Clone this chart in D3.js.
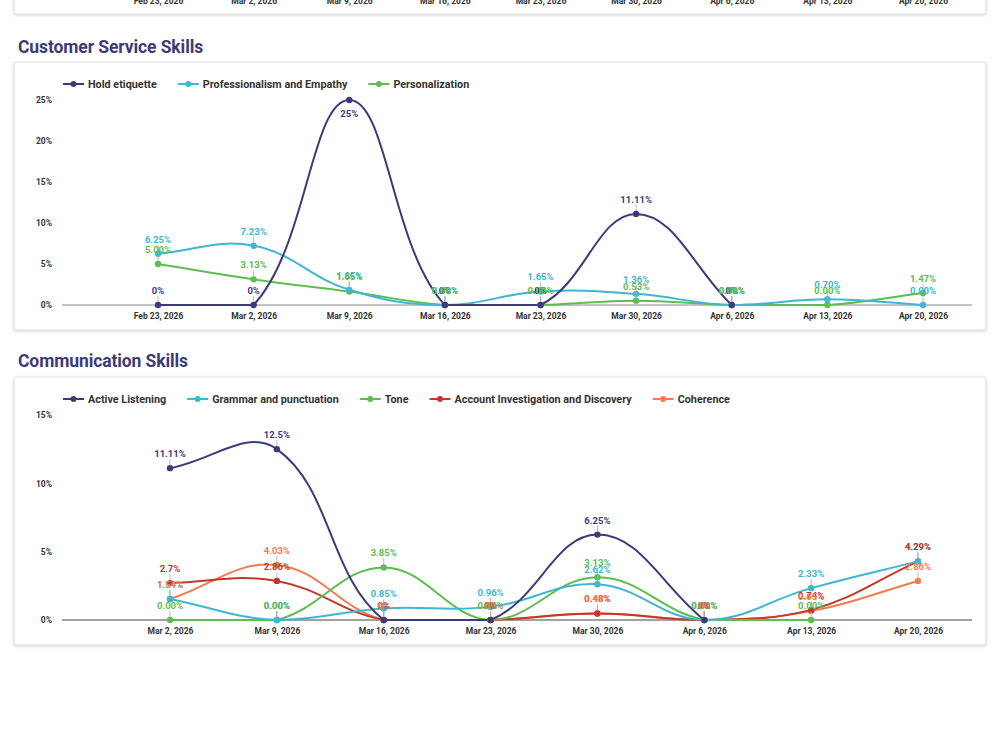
<!DOCTYPE html>
<html><head><meta charset="utf-8">
<script src="https://cdn.jsdelivr.net/npm/d3@7"></script>
<style>
html,body{margin:0;padding:0;background:#fff;}
svg{display:block;font-family:Roboto,"Noto Sans",sans-serif;}
</style></head>
<body>
<svg id="chart" width="1000" height="749"></svg>
<script>
// ---------- DATA ----------
const prevDates = ["Feb 23, 2026","Mar 2, 2026","Mar 9, 2026","Mar 16, 2026","Mar 23, 2026","Mar 30, 2026","Apr 6, 2026","Apr 13, 2026","Apr 20, 2026"];

const csDates = ["Feb 23, 2026","Mar 2, 2026","Mar 9, 2026","Mar 16, 2026","Mar 23, 2026","Mar 30, 2026","Apr 6, 2026","Apr 13, 2026","Apr 20, 2026"];
const csTicks = [0, 5, 10, 15, 20, 25];
const holdEtiquette    = [0, 0, 25, 0, 0, 11.11, 0, null, null];
const professionalism  = [6.25, 7.23, 1.85, 0, 1.65, 1.36, 0, 0.70, 0];
const personalization  = [5.00, 3.13, 1.65, 0, 0, 0.53, 0, 0, 1.47];

const commDates = ["Mar 2, 2026","Mar 9, 2026","Mar 16, 2026","Mar 23, 2026","Mar 30, 2026","Apr 6, 2026","Apr 13, 2026","Apr 20, 2026"];
const commTicks = [0, 5, 10, 15];
const activeListening = [11.11, 12.5, 0, 0, 6.25, 0, null, null];
const grammar         = [1.54, 0, 0.85, 0.96, 2.62, 0, 2.33, 4.29];
const tone            = [0.00, 0.00, 3.85, 0, 3.13, 0, 0, null];
const accountInv      = [2.7, 2.86, 0, 0, 0.48, 0, 0.74, 4.29];
const coherence       = [1.54, 4.03, 0, 0, 0.48, 0, 0.65, 2.86];

const C = {purple:"#3d3a7c", cyan:"#3fb6d3", green:"#5dbd4f", red:"#c0392b", orange:"#f47b4f"};

const csSeries = [
  {name:"Hold etiquette", values:holdEtiquette, color:C.purple, trim:true},
  {name:"Professionalism and Empathy", values:professionalism, color:C.cyan, trim:false},
  {name:"Personalization", values:personalization, color:C.green, trim:false}
];
const commSeries = [
  {name:"Active Listening", values:activeListening, color:C.purple, trim:true},
  {name:"Grammar and punctuation", values:grammar, color:C.cyan, trim:false},
  {name:"Tone", values:tone, color:C.green, trim:false},
  {name:"Account Investigation and Discovery", values:accountInv, color:C.red, trim:true},
  {name:"Coherence", values:coherence, color:C.orange, trim:true}
];

// ---------- DRAW ----------
const svg = d3.select("#chart");
const defs = svg.append("defs");
const f = defs.append("filter").attr("id","shadow").attr("x","-5%").attr("y","-5%").attr("width","110%").attr("height","115%");
f.append("feDropShadow").attr("dx",0).attr("dy",1).attr("stdDeviation",1.2).attr("flood-color","#000").attr("flood-opacity",0.18);

function card(x,y,w,h){
  svg.append("rect").attr("x",x).attr("y",y).attr("width",w).attr("height",h)
    .attr("rx",2).attr("fill","#fff").attr("stroke","#dcdcdc").attr("filter","url(#shadow)");
}

const fmtFixed = d3.format(".2f");
function label(v, trim){
  if (trim) return (+v.toFixed(2)).toString() + "%";
  return fmtFixed(v) + "%";
}

function chartjsPath(pts, area, t){
  const p = d3.path();
  const cps = pts.map((cur,i)=>{
    const prev = pts[i-1] || cur, next = pts[i+1] || cur;
    const d01 = Math.hypot(cur[0]-prev[0], cur[1]-prev[1]);
    const d12 = Math.hypot(next[0]-cur[0], next[1]-cur[1]);
    let s01 = d01/(d01+d12), s12 = d12/(d01+d12);
    if (!isFinite(s01)) s01 = 0; if (!isFinite(s12)) s12 = 0;
    const fa = t*s01, fb = t*s12;
    const cl = (v,a,b)=>Math.max(Math.min(v,b),a);
    return {
      px: cl(cur[0]-fa*(next[0]-prev[0]), area.left, area.right),
      py: cl(cur[1]-fa*(next[1]-prev[1]), area.top, area.bottom),
      nx: cl(cur[0]+fb*(next[0]-prev[0]), area.left, area.right),
      ny: cl(cur[1]+fb*(next[1]-prev[1]), area.top, area.bottom)
    };
  });
  p.moveTo(pts[0][0], pts[0][1]);
  for (let i=1;i<pts.length;i++){
    p.bezierCurveTo(cps[i-1].nx, cps[i-1].ny, cps[i].px, cps[i].py, pts[i][0], pts[i][1]);
  }
  return p.toString();
}

function drawChart(o){
  svg.append("text").attr("x",18).attr("y",o.titleY).attr("fill","#3d3a78")
    .attr("font-size",17.5).attr("font-weight",700).attr("letter-spacing","-0.1")
    .text(o.title);
  card(14,o.cardTop,972,o.cardH);

  const x = d3.scalePoint().domain(o.dates).range([o.x0, o.x1]);
  const y = d3.scaleLinear().domain([0, d3.max(o.ticks)]).range([o.y0, o.yTop]);
  const area = {left:62, right:972, top:o.yTop, bottom:o.y0};
  const g = svg.append("g");

  // y axis
  const ya = g.append("g").attr("transform","translate(54,0)")
    .call(d3.axisLeft(y).tickValues(o.ticks).tickSize(0).tickPadding(2).tickFormat(d=>d+"%"));
  ya.select(".domain").remove();
  ya.selectAll("text").attr("font-size",8.5).attr("font-weight",700).attr("fill","#333").attr("font-family","Roboto");

  // baseline
  g.append("line").attr("x1",62).attr("x2",972).attr("y1",y(0)).attr("y2",y(0))
    .attr("stroke",o.axisColor).attr("stroke-width",1);

  // x axis
  const xa = g.append("g").attr("transform",`translate(0,${y(0)})`)
    .call(d3.axisBottom(x).tickSize(0).tickPadding(8));
  xa.select(".domain").remove();
  xa.selectAll("text").attr("font-size",8.5).attr("font-weight",700).attr("fill","#333").attr("font-family","Roboto");

  // lines (first dataset on top)
  const rev = o.series.slice().reverse();
  rev.forEach(s=>{
    const pts = o.dates.map((d,i)=>s.values[i]==null?null:[x(d), y(s.values[i])]).filter(p=>p);
    g.append("path").attr("d", chartjsPath(pts, area, 0.4))
      .attr("fill","none").attr("stroke",s.color).attr("stroke-width",2);
  });
  rev.forEach(s=>{
    g.selectAll(null).data(o.dates.map((d,i)=>({d,v:s.values[i]})).filter(e=>e.v!=null))
      .join("circle").attr("cx",e=>x(e.d)).attr("cy",e=>y(e.v)).attr("r",3.2).attr("fill",s.color);
  });
  // data labels
  const maxV = d3.max(o.ticks);
  o.series.forEach(s=>{
    o.dates.forEach((d,i)=>{
      const v = s.values[i]; if (v==null) return;
      const px = x(d), py = y(v);
      const below = v >= maxV;
      if (below){
        g.append("text").attr("x",px).attr("y",py+17).attr("text-anchor","middle")
          .attr("font-size",9.5).attr("font-weight",700).attr("fill",s.color).text(label(v,s.trim));
      } else {
        g.append("line").attr("x1",px).attr("x2",px).attr("y1",py-3).attr("y2",py-9)
          .attr("stroke","#aaa").attr("stroke-width",0.8);
        g.append("text").attr("x",px).attr("y",py-11).attr("text-anchor","middle")
          .attr("font-size",9.5).attr("font-weight",700).attr("fill",s.color).text(label(v,s.trim));
      }
    });
  });

  // legend
  let lx = 63;
  o.series.forEach(s=>{
    const lg = g.append("g").attr("transform",`translate(${lx},${o.legendY})`);
    lg.append("line").attr("x1",0).attr("x2",21).attr("stroke",s.color).attr("stroke-width",2);
    lg.append("circle").attr("cx",10.5).attr("r",3).attr("fill",s.color);
    const t = lg.append("text").attr("x",25).attr("dy","0.35em").attr("font-size",10.8)
      .attr("font-weight",700).attr("fill","#333").text(s.name);
    lx += 25 + t.node().getComputedTextLength() + 21;
  });
}

// previous (cut-off) card at top
card(14,-40,972,54);
const xPrev = d3.scalePoint().domain(prevDates).range([158,923]);
const pa = svg.append("g").attr("transform","translate(0,-2)").call(d3.axisBottom(xPrev).tickSize(0).tickPadding(0));
pa.select(".domain").remove();
pa.selectAll("text").attr("font-size",8.5).attr("font-weight",700).attr("fill","#333").attr("font-family","Roboto");

drawChart({title:"Customer Service Skills", titleY:53, cardTop:62, cardH:268, axisColor:"#888",
  dates:csDates, ticks:csTicks, series:csSeries, x0:158, x1:923, y0:305, yTop:100, legendY:84});
drawChart({title:"Communication Skills", titleY:367, cardTop:377, cardH:268, axisColor:"#444",
  dates:commDates, ticks:commTicks, series:commSeries, x0:170, x1:918, y0:620, yTop:415, legendY:399});
</script>
</body></html>
